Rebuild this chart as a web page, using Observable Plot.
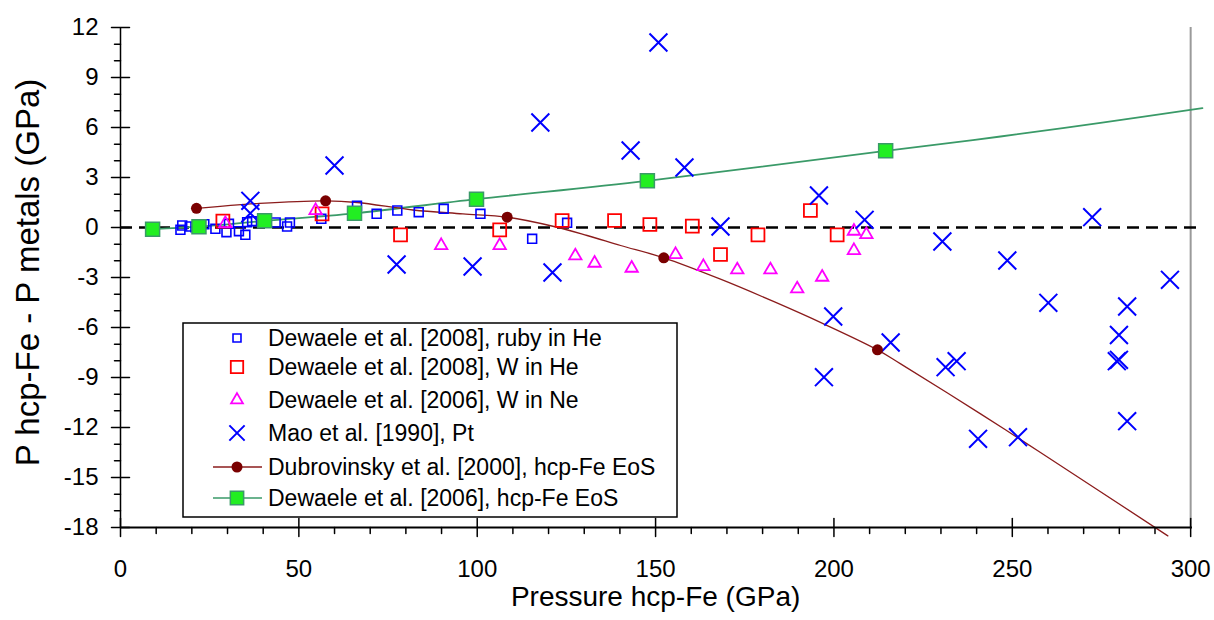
<!DOCTYPE html>
<html><head><meta charset="utf-8">
<script src="https://cdn.jsdelivr.net/npm/d3@7"></script>
<script src="https://cdn.jsdelivr.net/npm/@observablehq/plot@0.6"></script>
<style>body{margin:0;background:#fff} #chart{width:1214px;height:620px}</style>
</head><body><div id="chart"></div>
<script>
// Dewaele et al. [2008], ruby in He
const rubyX = [16.8,17.3,19.4,21,23.5,26.6,29.7,30.4,33.2,35,35.5,36.9,43.5,46.7,47.5,56.3,66.3,71.8,77.6,83.6,90.6,100.9,115.4,125.2];
const rubyY = [-0.14,0.12,0.06,0.02,0.2,-0.08,-0.28,0.22,-0.22,-0.44,0.32,0.38,0.3,0.06,0.3,0.52,1.3,0.82,1.02,0.92,1.12,0.82,-0.68,0.28];
// Dewaele et al. [2008], W in He
const wHeX = [28.7,56.5,78.5,106.3,123.8,138.5,148.4,160.3,168.2,178.7,193.4,200.9];
const wHeY = [0.38,0.82,-0.44,-0.14,0.42,0.42,0.18,0.08,-1.62,-0.44,1.02,-0.44];
// Dewaele et al. [2006], W in Ne
const wNeX = [29.4,54.7,89.9,106.3,127.5,132.9,143.3,155.6,163.4,172.9,182.2,189.7,196.7,205.6,205.6,209.1];
const wNeY = [0.24,1.02,-1.08,-1.08,-1.7,-2.14,-2.44,-1.62,-2.34,-2.54,-2.54,-3.68,-2.98,-0.22,-1.38,-0.42];
// Mao et al. [1990], Pt
const maoX = [36.4,36.4,60,77.4,98.7,117.7,121.1,143,150.8,158.1,168.2,195.8,197.2,199.8,208.6,215.9,230.4,231.3,234.4,240.4,248.6,251.6,260.1,272.4,279.3,279.9,279.9,282.2,282.2,294.2];
const maoY = [1.6,0.85,3.72,-2.22,-2.34,6.3,-2.7,4.62,11.1,3.6,0.06,1.92,-8.98,-5.34,0.46,-6.9,-0.84,-8.38,-8.02,-12.68,-1.98,-12.58,-4.52,0.62,-8.02,-7.94,-6.45,-4.74,-11.62,-3.14];
// Dubrovinsky et al. [2000], hcp-Fe EoS (markers and curve)
const dubX = [21.3,57.5,108.4,152.3,212.2];
const dubY = [1.15,1.6,0.62,-1.82,-7.34];
const dubLineX = [21.3,39,57.5,66.4,82,96,108.4,121.5,130.8,140.2,152.3,168.2,183.2,197.1,212.2,218.7,241.1,257.9,293.6];
const dubLineY = [1.15,1.45,1.6,1.5,1.05,0.82,0.62,0.06,-0.48,-1.08,-1.82,-3.1,-4.45,-5.78,-7.34,-8.18,-11.18,-13.5,-18.5];
// Dewaele et al. [2006], hcp-Fe EoS (markers and curve)
const dewX = [9,22,40.4,65.6,99.8,147.7,214.5];
const dewY = [-0.1,0.05,0.4,0.85,1.7,2.8,4.6];
const dewLineX = [9,22,40.4,65.6,99.8,147.7,214.5,246.7,274.7,303.3];
const dewLineY = [-0.1,0.05,0.4,0.85,1.7,2.8,4.6,5.46,6.28,7.16];
// ticks
const xMajor = [0,50,100,150,200,250,300];
const xMinor = d3.range(0,301,10).filter(v => v % 50 !== 0);
const yMajor = [-18,-15,-12,-9,-6,-3,0,3,6,9,12];
const yMinor = d3.range(-18,13,1).filter(v => v % 3 !== 0);
const legendLabels = ["Dewaele et al. [2008], ruby in He","Dewaele et al. [2008], W in He","Dewaele et al. [2006], W in Ne","Mao et al. [1990], Pt","Dubrovinsky et al. [2000], hcp-Fe EoS","Dewaele et al. [2006], hcp-Fe EoS"];

const pts = (xs, ys) => xs.map((x, i) => ({x, y: ys[i]}));
const tickShape = {draw(ctx, l) { ctx.moveTo(0, 0); ctx.lineTo(0, -l); }};
const font = "'Liberation Sans', Arial, sans-serif";

const cBlue = "#0000ff", cRed = "#ff0000", cMag = "#ff00ff", cBrown = "#7a0000", cBrownLine = "#8b1c1c", cGreen = "#3a9a68", cGreenFill = "#22ee22";

const svg = Plot.plot({
  width: 1214, height: 620,
  marginLeft: 120, marginRight: 11, marginTop: 27, marginBottom: 93,
  style: {fontFamily: font, background: "#fff", color: "#000"},
  x: {domain: [0, 303.6], axis: null},
  y: {domain: [-18, 12], axis: null},
  marks: [
    Plot.ruleX([300], {stroke: "#9a9a9a", strokeWidth: 2}),
    Plot.ruleY([0], {x1: 0, x2: 302.8, stroke: "#000", strokeWidth: 2.5, strokeDasharray: "12,7"}),
    Plot.line(pts(dewLineX, dewLineY), {x: "x", y: "y", stroke: cGreen, strokeWidth: 1.8, curve: "catmull-rom"}),
    Plot.line(pts(dubLineX, dubLineY), {x: "x", y: "y", stroke: cBrownLine, strokeWidth: 1.3, curve: "catmull-rom"}),
    Plot.dot(pts(rubyX, rubyY), {x: "x", y: "y", symbol: "square", r: 5, stroke: cBlue, strokeWidth: 1.6, fill: "none"}),
    Plot.dot(pts(wHeX, wHeY), {x: "x", y: "y", symbol: "square", r: 7.3, stroke: cRed, strokeWidth: 1.8, fill: "none"}),
    Plot.dot(pts(wNeX, wNeY), {x: "x", y: "y", symbol: "triangle", r: 4.6, stroke: cMag, strokeWidth: 1.8, fill: "none"}),
    Plot.dot(pts(maoX, maoY), {x: "x", y: "y", symbol: "times", r: 8.2, stroke: cBlue, strokeWidth: 2, fill: "none"}),
    Plot.dot(pts(dubX, dubY), {x: "x", y: "y", symbol: "circle", r: 5.5, fill: cBrown, stroke: "none"}),
    Plot.dot(pts(dewX, dewY), {x: "x", y: "y", symbol: "square", r: 7.9, fill: cGreenFill, stroke: cGreen, strokeWidth: 1.5}),
    // axis lines
    Plot.ruleX([0], {stroke: "#000", strokeWidth: 1.5}),
    Plot.ruleY([-18], {x1: 0, x2: 300.5, stroke: "#000", strokeWidth: 2}),
    // ticks
    Plot.vector(xMajor, {x: d => d, y: -18, length: 18, anchor: "middle", rotate: 0, shape: tickShape, stroke: "#000", strokeWidth: 1.5}),
    Plot.vector(xMinor, {x: d => d, y: -18, length: 6, anchor: "start", rotate: 180, shape: tickShape, stroke: "#000", strokeWidth: 1.5}),
    Plot.vector(yMajor, {x: 0, y: d => d, length: 18, anchor: "middle", rotate: 90, shape: tickShape, stroke: "#000", strokeWidth: 1.5}),
    Plot.vector(yMinor, {x: 0, y: d => d, length: 6, anchor: "start", rotate: 270, shape: tickShape, stroke: "#000", strokeWidth: 1.5}),
    Plot.axisX(xMajor, {tickSize: 0, tickPadding: 32, fontSize: 24, label: null, tickFormat: d => String(d)}),
    Plot.axisY(yMajor, {tickSize: 0, tickPadding: 22, fontSize: 24, label: null, tickFormat: d => String(d)}),
    Plot.text(["Pressure hcp-Fe (GPa)"], {x: 150, frameAnchor: "bottom", dy: 78, fontSize: 28, fill: "#000", textAnchor: "middle"}),
    Plot.text(["P hcp-Fe - P metals (GPa)"], {frameAnchor: "left", dx: -92, dy: -5, rotate: -90, fontSize: 33, fill: "#000", textAnchor: "middle", lineAnchor: "middle"})
  ]
});

// legend drawn into the same SVG
const s = d3.select(svg);
const lg = s.append("g").attr("font-family", font).attr("font-size", 23).attr("text-anchor", "start");
lg.append("rect").attr("x", 183).attr("y", 323).attr("width", 494).attr("height", 194)
  .attr("fill", "#fff").attr("stroke", "#000").attr("stroke-width", 1.5);
const rows = [338, 367, 400, 433, 467, 498];
const mx = 237;
const sym = (type, r) => d3.symbol().type(type).size(Math.PI * r * r)();
const specs = [
  {path: sym(d3.symbolSquare, 4.5), stroke: cBlue, fill: "none", sw: 1.6},
  {path: sym(d3.symbolSquare, 7), stroke: cRed, fill: "none", sw: 1.8},
  {path: sym(d3.symbolTriangle, 4.4), stroke: cMag, fill: "none", sw: 1.8},
  {path: sym(d3.symbolTimes, 7), stroke: cBlue, fill: "none", sw: 2},
  {path: sym(d3.symbolCircle, 5.5), stroke: "none", fill: cBrown, sw: 0, line: cBrownLine},
  {path: sym(d3.symbolSquare, 7.5), stroke: cGreen, fill: cGreenFill, sw: 1.5, line: cGreen}
];
specs.forEach((sp, i) => {
  const y = rows[i];
  if (sp.line) lg.append("line").attr("x1", 213).attr("x2", 262).attr("y1", y).attr("y2", y).attr("stroke", sp.line).attr("stroke-width", 1.5);
  lg.append("path").attr("d", sp.path).attr("transform", `translate(${mx},${y})`)
    .attr("fill", sp.fill).attr("stroke", sp.stroke).attr("stroke-width", sp.sw);
  lg.append("text").attr("x", 268).attr("y", y).attr("dy", "0.35em").attr("fill", "#000").text(legendLabels[i]);
});

document.getElementById("chart").appendChild(svg);
</script>
</body></html>
